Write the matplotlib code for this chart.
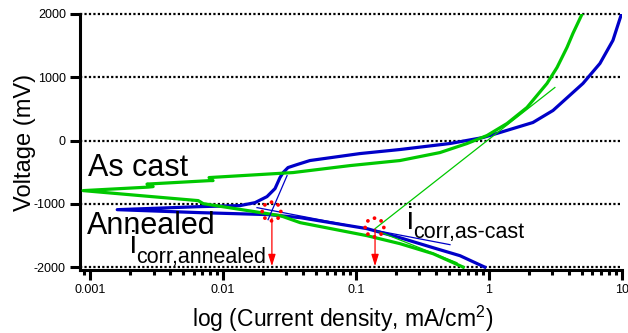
import numpy as np
import matplotlib
matplotlib.use("Agg")
import matplotlib.pyplot as plt
from matplotlib.path import Path
from matplotlib.ticker import FixedLocator, FixedFormatter, LogLocator, NullFormatter

plt.rcParams['font.family'] = 'Liberation Sans'
plt.rcParams['mathtext.fontset'] = 'custom'
plt.rcParams['mathtext.rm'] = 'Liberation Sans'
plt.rcParams['axes.unicode_minus'] = False

# as cast (green): cathodic branch from -2000 mV, then anodic branch
cast_i = [0.64, 0.38, 0.214, 0.121, 0.038, 0.027, 0.0071, 0.0065, 0.00238, 0.000886,
          0.00273, 0.00298, 0.00268, 0.00798, 0.00841, 0.00785, 0.0336, 0.090, 0.214,
          0.428, 0.684, 0.966, 1.366, 1.93, 2.73, 3.25, 3.86, 4.28, 5.0]
cast_v = [-2000, -1788, -1629, -1503, -1297, -1187, -997, -949, -870, -791,
          -736, -728, -688, -633, -633, -585, -506, -396, -316,
          -190, -47, 79, 269, 522, 902, 1155, 1471, 1693, 1993]

# annealed (blue)
ann_i = [0.93, 0.605, 0.38, 0.214, 0.121, 0.038, 0.0225, 0.0067, 0.0016,
         0.0067, 0.0134, 0.0174, 0.0214, 0.0246, 0.0268, 0.0283, 0.0308, 0.036, 0.045,
         0.107, 0.214, 0.509, 0.90, 1.21, 2.14, 3.03, 5.09, 6.83, 8.55, 9.9]
ann_v = [-2000, -1819, -1693, -1535, -1392, -1218, -1171, -1139, -1092,
         -1044, -1028, -981, -886, -759, -585, -506, -427, -380, -316,
         -206, -142, -47, 47, 127, 285, 475, 902, 1218, 1582, 1995]

# Tafel fit lines (start, end)
cast_tafel_a = ([0.139, 3.13], [-1392, 838])
cast_tafel_c = ([0.143, 0.574], [-1424, -1930])
ann_tafel_a = ([0.0218, 0.0303], [-1250, -554])
ann_tafel_c = ([0.018, 0.509], [-1060, -1645])

# corrosion points
icorr_i = [0.023, 0.136]
icorr_v = [-1107, -1360]
arrow_i = [0.0233, 0.139]
arrow_top = [-1225, -1400]

grid_v = [-2000, -1000, 0, 1000, 2000]
xticks = [0.001, 0.01, 0.1, 1, 10]
xlabels = ['0.001', '0.01', '0.1', '1', '10']
yticks = [-2000, -1000, 0, 1000, 2000]
ylabels = ['-2000', '-1000', '0', '1000', '2000']

green = '#00c800'
blue = '#0000c8'

fig = plt.figure(figsize=(6.28, 3.33), dpi=100)
ax = fig.add_axes([0.1274, 0.1892, 0.863, 0.769])

for v in grid_v:
    ax.axhline(v, color='black', lw=1.6, ls=(0, (1, 1)), clip_on=False, zorder=1)

ax.plot(ann_i, ann_v, color=blue, lw=2.3, zorder=3)
ax.plot(cast_i, cast_v, color=green, lw=2.3, zorder=4)
for tl in [cast_tafel_a, cast_tafel_c]:
    ax.plot(tl[0], tl[1], color=green, lw=0.9, zorder=5)
for tl in [ann_tafel_a, ann_tafel_c]:
    ax.plot(tl[0], tl[1], color=blue, lw=0.9, zorder=5)

# dotted red circle marker
ang = np.linspace(0, 2 * np.pi, 9)[:-1]
dots = Path.make_compound_path(*[Path.circle((np.cos(a), np.sin(a)), 0.2) for a in ang])
ax.scatter(icorr_i, icorr_v, marker=dots, s=260, color='red', linewidths=0, zorder=6)

for xi, yt in zip(arrow_i, arrow_top):
    ax.annotate('', xy=(xi, -1985), xytext=(xi, yt),
                arrowprops=dict(arrowstyle='-|>,head_length=0.7,head_width=0.22',
                                color='red', lw=0.9, shrinkA=0, shrinkB=0), zorder=6)

ax.text(0.00096, -554, 'As cast', fontsize=22, va='baseline')
ax.text(0.00095, -1471, 'Annealed', fontsize=22, va='baseline')

# i with subscript, drawn as two texts
ax.text(0.0020, -1772, 'i', fontsize=22, va='baseline')
ax.annotate('corr,annealed', xy=(0.0020, -1772), xytext=(4.2, -7.2),
            textcoords='offset points', fontsize=15.5, va='baseline')
ax.text(0.241, -1392, 'i', fontsize=22, va='baseline')
ax.annotate('corr,as-cast', xy=(0.241, -1392), xytext=(4.4, -6.5),
            textcoords='offset points', fontsize=15.5, va='baseline')

ax.set_xscale('log')
ax.set_xlim(0.00084, 10)
ax.set_ylim(-2045, 2000)
ax.xaxis.set_major_locator(FixedLocator(xticks))
ax.xaxis.set_major_formatter(FixedFormatter(xlabels))
ax.xaxis.set_minor_locator(LogLocator(base=10, subs=np.arange(2, 10)))
ax.xaxis.set_minor_formatter(NullFormatter())
ax.yaxis.set_major_locator(FixedLocator(yticks))
ax.yaxis.set_major_formatter(FixedFormatter(ylabels))

for s in ['top', 'right']:
    ax.spines[s].set_visible(False)
for s in ['left', 'bottom']:
    ax.spines[s].set_linewidth(2.2)
ax.tick_params(which='major', length=7.2, width=2.2, labelsize=9, pad=3)
ax.tick_params(which='minor', length=3.6, width=2.2)

ax.set_xlabel(r'log (Current density, mA/cm$^\mathregular{2}$)', fontsize=16.5)
ax.set_ylabel('Voltage (mV)', fontsize=17)
ax.xaxis.set_label_coords(0.485, -0.132)
ax.yaxis.set_label_coords(-0.081, 0.5)

fig.savefig('out.png', dpi=100)
